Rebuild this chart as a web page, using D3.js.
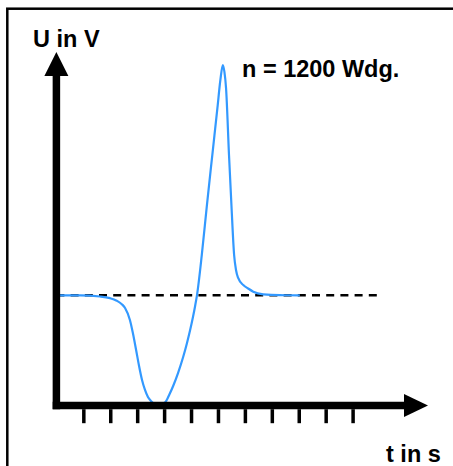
<!DOCTYPE html>
<html>
<head>
<meta charset="utf-8">
<script src="https://cdn.jsdelivr.net/npm/d3@7"></script>
<style>
  html, body { margin: 0; padding: 0; background: #fff; overflow: hidden; }
  svg { display: block; }
  .lbl { font-family: "Liberation Sans", Arial, sans-serif; font-weight: bold; font-size: 23.5px; fill: #000; }
</style>
</head>
<body>
<div id="chart"></div>
<script>
// induced voltage over time (U relative to the rest level = 1)
var timeS = [0, 0.88, 1.62, 1.99, 2.24, 2.44, 2.55, 2.73, 2.84, 2.96, 3.07, 3.18, 3.29, 3.40, 3.51,
             3.77, 4.05, 4.20, 4.34, 4.52, 4.71, 4.85, 4.96, 5.07, 5.15, 5.22, 5.40, 5.59, 5.79,
             5.98, 6.09, 6.18, 6.24, 6.30, 6.41, 6.50, 6.60, 6.67, 6.75, 6.94, 7.12, 7.31, 7.68,
             8.30, 9.04];
var voltageU = [1.000, 0.999, 0.989, 0.974, 0.951, 0.917, 0.885, 0.776, 0.658, 0.504, 0.358, 0.231,
                0.141, 0.077, 0.041, 0.000, 0.032, 0.102, 0.179, 0.296, 0.442, 0.568, 0.678, 0.801,
                0.901, 0.999, 1.366, 1.819, 2.273, 2.700, 2.954, 3.090, 3.027, 2.881, 2.273, 1.819,
                1.366, 1.230, 1.157, 1.093, 1.062, 1.033, 1.009, 1.001, 1.000];
var restLevel = 1;
var restLineEnd = 11.92;
var tickTimes = [1, 2, 3, 4, 5, 6, 7, 8, 9, 10, 11];
var axisEnd = { t: 13.8, u: 3.2 };
var yLabel = "U in V", xLabel = "t in s", note = "n = 1200 Wdg.";

var width = 453, height = 466;
var svg = d3.select("#chart").append("svg")
    .attr("width", width)
    .attr("height", height);

var x = d3.scaleLinear().domain([0, 11]).range([56.4, 352.6]);
var y = d3.scaleLinear().domain([0, 1]).range([405.5, 295.3]);

// frame
svg.append("rect")
    .attr("x", 7.3).attr("y", 8.7)
    .attr("width", 600).attr("height", 600)
    .attr("fill", "none").attr("stroke", "#000").attr("stroke-width", 2.5);

// rest level
svg.append("line")
    .attr("x1", x(0)).attr("x2", x(restLineEnd))
    .attr("y1", y(restLevel)).attr("y2", y(restLevel))
    .attr("stroke", "#000").attr("stroke-width", 2.5)
    .attr("stroke-dasharray", "8,6.2");

// curve
var line = d3.line()
    .x(function(d, i) { return x(timeS[i]); })
    .y(function(d) { return y(d); })
    .curve(d3.curveMonotoneX);

svg.append("path")
    .datum(voltageU)
    .attr("d", line)
    .attr("fill", "none")
    .attr("stroke", "#3399ff")
    .attr("stroke-width", 2.2);

// axes
var x0 = x(0), y0 = y(0);
svg.append("line")
    .attr("x1", x0).attr("x2", x0)
    .attr("y1", y0 + 3.8).attr("y2", 74)
    .attr("stroke", "#000").attr("stroke-width", 7.5);
svg.append("line")
    .attr("x1", x0 - 3.7).attr("x2", x(axisEnd.t) - 22)
    .attr("y1", y0).attr("y2", y0)
    .attr("stroke", "#000").attr("stroke-width", 7.5);

var yTip = 52, xTip = x(axisEnd.t);
svg.append("path")
    .attr("d", "M" + x0 + "," + yTip + "L" + (x0 + 12) + "," + (yTip + 24) + "L" + (x0 - 12) + "," + (yTip + 24) + "Z")
    .attr("fill", "#000");
svg.append("path")
    .attr("d", "M" + xTip + "," + y0 + "L" + (xTip - 24) + "," + (y0 - 11.5) + "L" + (xTip - 24) + "," + (y0 + 11.5) + "Z")
    .attr("fill", "#000");

var ticks = svg.append("g")
    .attr("transform", "translate(0," + (y0 + 3.7) + ")")
    .call(d3.axisBottom(x).tickValues(tickTimes).tickSize(14).tickFormat(""));
ticks.select(".domain").remove();
ticks.selectAll("line").attr("stroke", "#000").attr("stroke-width", 3.5);

// labels
svg.append("text").attr("class", "lbl").attr("x", 33).attr("y", 47).text(yLabel);
svg.append("text").attr("class", "lbl").attr("x", 242).attr("y", 77).text(note);
svg.append("text").attr("class", "lbl").attr("x", 386).attr("y", 462).text(xLabel);
</script>
</body>
</html>
